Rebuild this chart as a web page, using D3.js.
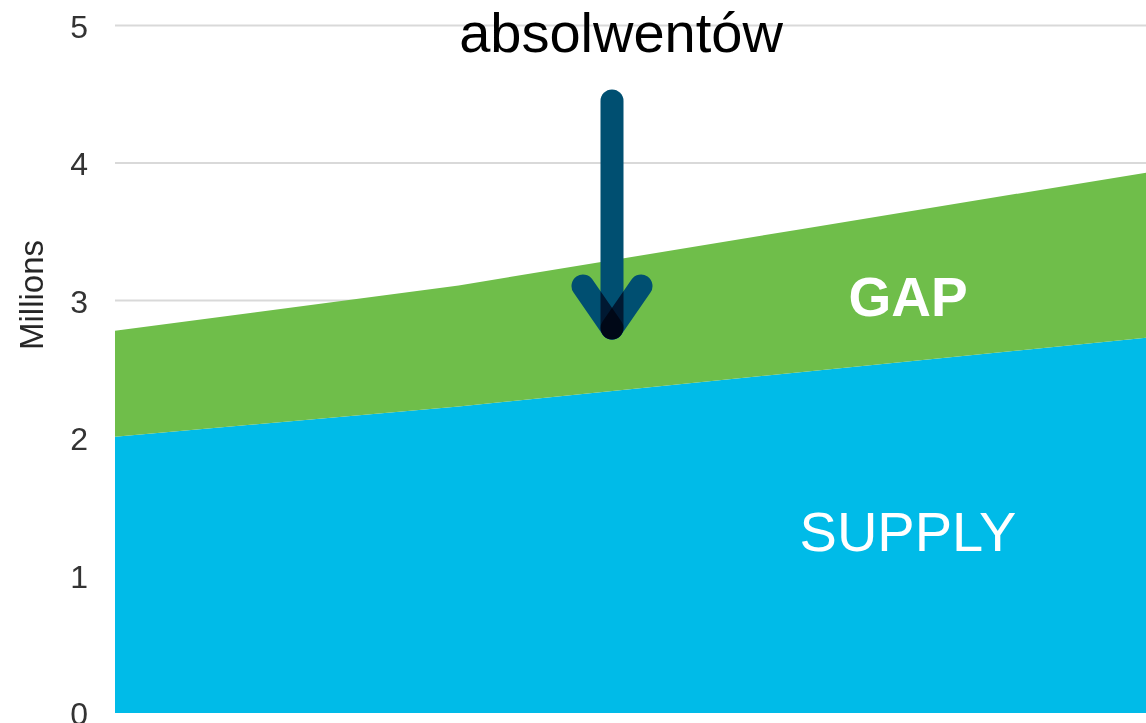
<!DOCTYPE html>
<html>
<head>
<meta charset="utf-8">
<script src="https://cdn.jsdelivr.net/npm/d3@7"></script>
<style>
  html, body { margin: 0; padding: 0; background: #ffffff; }
  svg { display: block; font-family: "Liberation Sans", Arial, sans-serif; }
</style>
</head>
<body>
<svg id="chart" width="1146" height="723"></svg>
<script>
// Projection periods (x positions only, no axis labels shown)
const periods = ["P1", "P2", "P3", "P4"];
// Supply of graduates, millions
const supply = [2.01, 2.23, 2.48, 2.73];
// Gap between demand and supply, millions
const gap = [0.77, 0.88, 1.04, 1.20];
// Y axis ticks
const yTicks = [0, 1, 2, 3, 4, 5];

const W = 1146, H = 723;
const margin = { left: 115, right: 0, top: 25.5, bottom: 10 };

const svg = d3.select("#chart");

const x = d3.scalePoint().domain(periods).range([margin.left, W - margin.right]);
const y = d3.scaleLinear().domain([0, 5]).range([713, margin.top]);

const rows = periods.map((p, i) => ({ period: p, supply: supply[i], gap: gap[i] }));
const stacked = d3.stack().keys(["supply", "gap"])(rows);

// Gridlines
svg.append("g")
  .selectAll("line")
  .data(yTicks.filter(t => t > 0))
  .join("line")
  .attr("x1", margin.left)
  .attr("x2", W)
  .attr("y1", d => y(d))
  .attr("y2", d => y(d))
  .attr("stroke", "#d9d9d9")
  .attr("stroke-width", 2);

// Stacked areas
const colors = { supply: "#00bbe8", gap: "#6fbe4a" };
const area = d3.area()
  .x(d => x(d.data.period))
  .y0(d => y(d[0]))
  .y1(d => y(d[1]))
  .curve(d3.curveLinear);

svg.append("g")
  .selectAll("path")
  .data(stacked)
  .join("path")
  .attr("d", area)
  .attr("fill", d => colors[d.key]);

// Y axis labels
const yAxis = d3.axisLeft(y).tickValues(yTicks).tickSize(0).tickPadding(0).tickFormat(d3.format("d"));
const gy = svg.append("g")
  .attr("transform", `translate(88,0)`)
  .call(yAxis);
gy.select(".domain").remove();
gy.selectAll("text")
  .attr("fill", "#333333")
  .style("font-size", "32px")
  .style("font-family", "'Liberation Sans', Arial, sans-serif")
  .attr("dy", "0.36em");

// Axis title
svg.append("text")
  .attr("transform", `translate(43,295) rotate(-90)`)
  .attr("text-anchor", "middle")
  .attr("fill", "#262626")
  .style("font-size", "33px")
  .text("Millions");

// Series labels
svg.append("text")
  .attr("x", 908)
  .attr("y", 316)
  .attr("text-anchor", "middle")
  .attr("fill", "#ffffff")
  .style("font-size", "55px")
  .style("font-weight", "bold")
  .text("GAP");

svg.append("text")
  .attr("x", 908)
  .attr("y", 551)
  .attr("text-anchor", "middle")
  .attr("fill", "#ffffff")
  .style("font-size", "56px")
  .text("SUPPLY");

// Heading
svg.append("text")
  .attr("x", 621)
  .attr("y", 52)
  .attr("text-anchor", "middle")
  .attr("fill", "#000000")
  .style("font-size", "56px")
  .text("absolwentów");

// Downward arrow: strokes multiply within an isolated group so overlaps darken
const arrow = svg.append("g").style("isolation", "isolate");
const arrowColor = "#004f71";
const segs = [
  [612, 101, 612, 328],
  [583, 286, 612, 328],
  [641, 286, 612, 328]
];
arrow.selectAll("line")
  .data(segs)
  .join("line")
  .attr("x1", d => d[0]).attr("y1", d => d[1])
  .attr("x2", d => d[2]).attr("y2", d => d[3])
  .attr("stroke", arrowColor)
  .attr("stroke-width", 23)
  .attr("stroke-linecap", "round")
  .style("mix-blend-mode", "multiply");
</script>
</body>
</html>
